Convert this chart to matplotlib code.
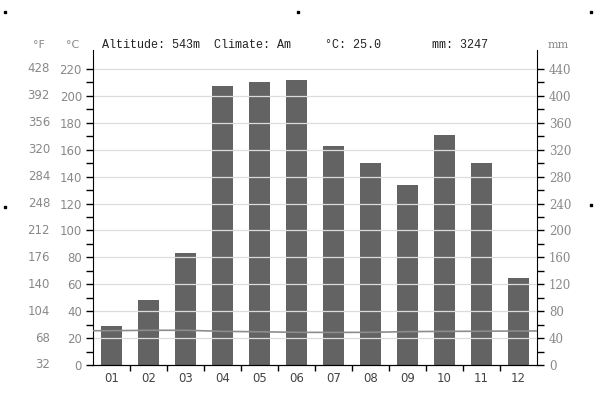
import matplotlib
matplotlib.use("Agg")
import matplotlib.pyplot as plt
import numpy as np

months = ["01", "02", "03", "04", "05", "06", "07", "08", "09", "10", "11", "12"]
precip_mm = [58, 97, 166, 415, 421, 424, 326, 300, 267, 342, 301, 130]
temp_c = [25.5, 25.8, 25.8, 25.0, 24.7, 24.3, 24.2, 24.3, 24.8, 25.0, 25.1, 25.3]
c_ticks = list(range(0, 221, 20))
f_labels = ["32", "68", "104", "140", "176", "212", "248", "284", "320", "356", "392", "428"]
mm_ticks = list(range(0, 441, 40))
header_left = "Altitude: 543m  Climate: Am"
header_temp = "°C: 25.0"
header_mm = "mm: 3247"

W, H = 595, 399
fig = plt.figure(figsize=(W / 100, H / 100), dpi=100)
ax_l, ax_r, ax_b, ax_t = 93, 537, 365, 50
ax = fig.add_axes([ax_l / W, 1 - ax_b / H, (ax_r - ax_l) / W, (ax_b - ax_t) / H])

ymax = 220 * (ax_b - ax_t) / (365 - 69)
x = np.arange(1, 13)
xlim = (0.5, 12.5)
ax.set_xlim(*xlim)
ax.set_ylim(0, ymax)

for c in c_ticks[1:]:
    ax.axhline(c, color="#dcdcdc", lw=0.9, zorder=0)

ax2 = ax.twinx()
ax2.set_ylim(0, ymax * 2)
ax2.bar(x, precip_mm, width=0.55, color="#636363", zorder=2)

ax.set_zorder(ax2.get_zorder() + 1)
ax.patch.set_visible(False)
tx = [xlim[0]] + list(x) + [xlim[1]]
ty = [temp_c[0]] + temp_c + [temp_c[-1]]
ax.plot(tx, ty, color="#8c8c8c", lw=1.2, zorder=3)

gray = "#888888"
for a in (ax, ax2):
    a.spines["top"].set_visible(False)
ax.spines["right"].set_visible(False)
ax2.spines["left"].set_visible(False)

ax.set_yticks(c_ticks)
ax.set_yticklabels([str(c) for c in c_ticks], color=gray, fontsize=8.5)
ax.set_yticks(list(range(10, 221, 20)), minor=True)
ax.tick_params(axis="y", which="both", direction="out", length=5, width=1)
ax.tick_params(axis="y", which="major", pad=3)

ax2.set_yticks(mm_ticks)
ax2.set_yticklabels([str(m) for m in mm_ticks], color=gray, fontsize=8.5,
                    family="DejaVu Serif")
ax2.set_yticks(list(range(20, 441, 40)), minor=True)
ax2.tick_params(axis="y", which="both", direction="out", length=5, width=1)

ax.set_xticks(x)
ax.set_xticklabels(months, fontsize=8.5, color="#444444")
ax.set_xticks(np.arange(1.5, 12.5, 1), minor=True)
ax.tick_params(axis="x", which="major", length=0, pad=5)
ax.tick_params(axis="x", which="minor", direction="out", length=4, width=1)

# Fahrenheit labels
for c, f in zip(c_ticks, f_labels):
    yf = 1 - (ax_b - (ax_b - ax_t) * c / ymax) / H
    fig.text(50 / W, yf, f, ha="right", va="center", color=gray, fontsize=8.5)

ty_h = 1 - 45 / H
fig.text(33 / W, ty_h, "°F", color=gray, fontsize=8, va="center", ha="left")
fig.text(66 / W, ty_h, "°C", color=gray, fontsize=8, va="center", ha="left")
fig.text(548 / W, ty_h, "mm", color=gray, fontsize=8, va="center", ha="left",
         family="DejaVu Serif")
fig.text(102 / W, ty_h, header_left, color="#222222", fontsize=8.5, va="center",
         ha="left", family="Liberation Mono")
fig.text(325 / W, ty_h, header_temp, color="#222222", fontsize=8.5, va="center",
         ha="left", family="Liberation Mono")
fig.text(432 / W, ty_h, header_mm, color="#222222", fontsize=8.5, va="center",
         ha="left", family="Liberation Mono")

# corner marks
for px, py in [(5, 12), (298, 12), (591, 12), (5, 207), (591, 205)]:
    fig.patches.append(plt.Rectangle((px / W - 1 / W, 1 - py / H - 1 / H), 2 / W, 2 / H,
                                     transform=fig.transFigure, color="black",
                                     figure=fig))

fig.savefig("out.png", dpi=100)
